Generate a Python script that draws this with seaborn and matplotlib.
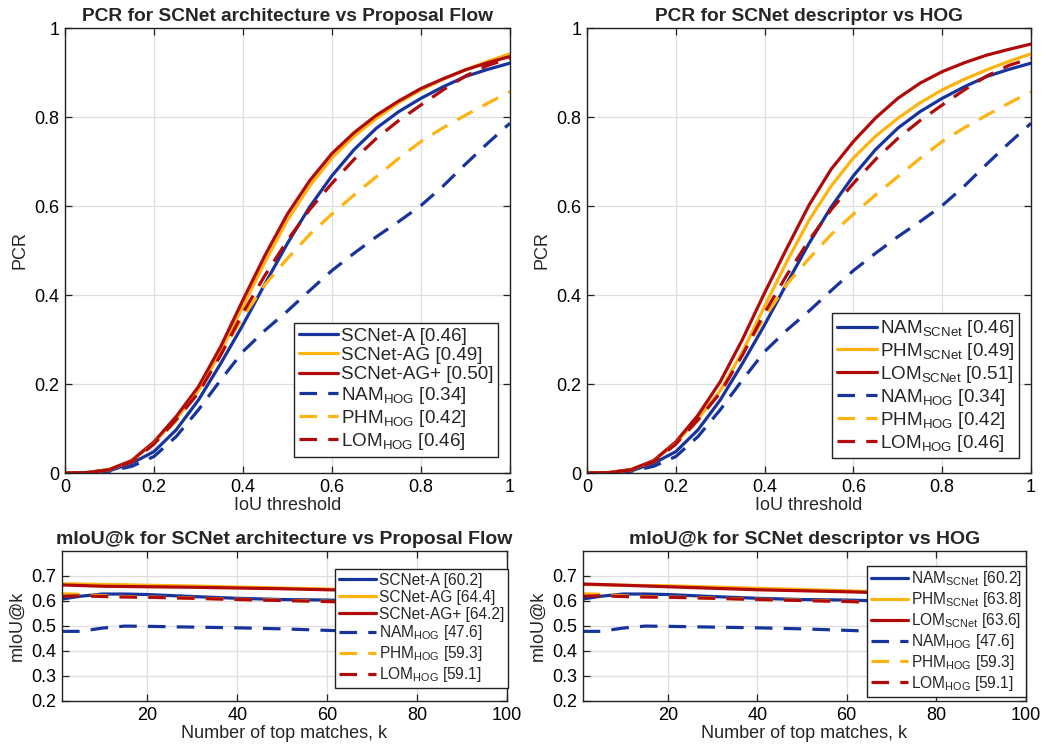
import numpy as np
import pandas as pd
import matplotlib
matplotlib.use('Agg')
import matplotlib.pyplot as plt
import seaborn as sns
from matplotlib.ticker import FuncFormatter

# PCR curves (IoU threshold 0..1)
iou = [0.0, 0.05, 0.1, 0.15, 0.2, 0.25, 0.3, 0.35, 0.4, 0.45, 0.5,
       0.55, 0.6, 0.65, 0.7, 0.75, 0.8, 0.85, 0.9, 0.95, 1.0]
pcr_scnet_a = [0, 0.001, 0.005, 0.022, 0.048, 0.097, 0.164, 0.246, 0.333, 0.426, 0.516,
               0.598, 0.668, 0.727, 0.775, 0.812, 0.842, 0.868, 0.891, 0.907, 0.921]
pcr_scnet_ag = [0, 0.001, 0.008, 0.027, 0.068, 0.122, 0.185, 0.272, 0.375, 0.475, 0.568,
                0.645, 0.708, 0.757, 0.797, 0.832, 0.861, 0.885, 0.906, 0.925, 0.942]
pcr_scnet_agp = [0, 0.001, 0.008, 0.028, 0.070, 0.127, 0.194, 0.284, 0.389, 0.490, 0.582,
                 0.657, 0.718, 0.765, 0.804, 0.836, 0.864, 0.886, 0.906, 0.922, 0.936]
pcr_nam_hog = [0, 0.001, 0.004, 0.015, 0.037, 0.082, 0.142, 0.209, 0.273, 0.321, 0.364,
               0.410, 0.455, 0.494, 0.531, 0.565, 0.601, 0.645, 0.694, 0.741, 0.786]
pcr_phm_hog = [0, 0.001, 0.007, 0.025, 0.066, 0.118, 0.182, 0.267, 0.350, 0.424, 0.482,
               0.536, 0.582, 0.625, 0.666, 0.707, 0.745, 0.776, 0.804, 0.831, 0.857]
pcr_lom_hog = [0, 0.001, 0.007, 0.025, 0.065, 0.120, 0.180, 0.265, 0.360, 0.445, 0.523,
               0.592, 0.651, 0.705, 0.752, 0.792, 0.827, 0.861, 0.892, 0.916, 0.932]
pcr_lom_scnet = [0, 0.001, 0.008, 0.028, 0.070, 0.130, 0.205, 0.300, 0.405, 0.505, 0.602,
                 0.683, 0.745, 0.798, 0.842, 0.876, 0.902, 0.922, 0.939, 0.952, 0.964]

# mIoU@k curves
k_vals = [1, 5, 10, 15, 20, 30, 40, 50, 60, 70, 80, 90, 100]
miou_scnet_a = [0.607, 0.618, 0.627, 0.627, 0.625, 0.617, 0.610, 0.605, 0.603, 0.598, 0.592, 0.587, 0.581]
miou_scnet_ag = [0.668, 0.667, 0.665, 0.664, 0.662, 0.659, 0.655, 0.651, 0.647, 0.642, 0.636, 0.629, 0.622]
miou_scnet_agp = [0.663, 0.661, 0.658, 0.657, 0.656, 0.654, 0.651, 0.648, 0.644, 0.640, 0.635, 0.630, 0.625]
miou_nam_hog = [0.478, 0.478, 0.491, 0.499, 0.498, 0.495, 0.492, 0.488, 0.482, 0.476, 0.470, 0.464, 0.458]
miou_phm_hog = [0.628, 0.626, 0.620, 0.617, 0.615, 0.611, 0.606, 0.602, 0.598, 0.592, 0.586, 0.580, 0.573]
miou_lom_hog = [0.618, 0.620, 0.617, 0.615, 0.614, 0.610, 0.605, 0.601, 0.597, 0.592, 0.587, 0.582, 0.577]
miou_phm_scnet = [0.665, 0.664, 0.662, 0.661, 0.660, 0.655, 0.650, 0.645, 0.640, 0.634, 0.628, 0.622, 0.615]
miou_lom_scnet = [0.667, 0.665, 0.662, 0.659, 0.656, 0.650, 0.644, 0.640, 0.636, 0.631, 0.626, 0.622, 0.618]

# legend labels
lbl_arch_pcr = ['SCNet-A [0.46]', 'SCNet-AG [0.49]', 'SCNet-AG+ [0.50]',
                r'NAM$_{\mathrm{HOG}}$ [0.34]', r'PHM$_{\mathrm{HOG}}$ [0.42]', r'LOM$_{\mathrm{HOG}}$ [0.46]']
lbl_desc_pcr = [r'NAM$_{\mathrm{SCNet}}$ [0.46]', r'PHM$_{\mathrm{SCNet}}$ [0.49]', r'LOM$_{\mathrm{SCNet}}$ [0.51]',
                r'NAM$_{\mathrm{HOG}}$ [0.34]', r'PHM$_{\mathrm{HOG}}$ [0.42]', r'LOM$_{\mathrm{HOG}}$ [0.46]']
lbl_arch_miou = ['SCNet-A [60.2]', 'SCNet-AG [64.4]', 'SCNet-AG+ [64.2]',
                 r'NAM$_{\mathrm{HOG}}$ [47.6]', r'PHM$_{\mathrm{HOG}}$ [59.3]', r'LOM$_{\mathrm{HOG}}$ [59.1]']
lbl_desc_miou = [r'NAM$_{\mathrm{SCNet}}$ [60.2]', r'PHM$_{\mathrm{SCNet}}$ [63.8]', r'LOM$_{\mathrm{SCNet}}$ [63.6]',
                 r'NAM$_{\mathrm{HOG}}$ [47.6]', r'PHM$_{\mathrm{HOG}}$ [59.3]', r'LOM$_{\mathrm{HOG}}$ [59.1]']

blue = '#17349c'
orange = '#ffb30f'
red = '#b00a0a'
colors = [blue, orange, red, blue, orange, red]
styles = ['-', '-', '-', (0, (5.5, 3.5)), (0, (5.5, 3.5)), (0, (5.5, 3.5))]

sns.set_style('ticks')
plt.rcParams['font.family'] = ['Liberation Sans', 'DejaVu Sans']
plt.rcParams['mathtext.fontset'] = 'custom'
plt.rcParams['mathtext.rm'] = 'Liberation Sans'
plt.rcParams['mathtext.it'] = 'Liberation Sans:italic'
plt.rcParams['mathtext.bf'] = 'Liberation Sans:bold'

fig = plt.figure(figsize=(10.46, 7.47), dpi=100)
ax_tl = fig.add_axes([0.0621, 0.3668, 0.4254, 0.5957])
ax_tr = fig.add_axes([0.5612, 0.3668, 0.4245, 0.5957])
ax_bl = fig.add_axes([0.0593, 0.0616, 0.4251, 0.2012])
ax_br = fig.add_axes([0.5571, 0.0616, 0.4235, 0.2012])

fmt = FuncFormatter(lambda v, p: '%g' % round(v, 2))


def style_axes(ax):
    ax.grid(True, color='#dedede', lw=0.9)
    ax.set_axisbelow(True)
    for s in ax.spines.values():
        s.set_visible(True)
        s.set_color('#222222')
        s.set_linewidth(1.0)
    ax.tick_params(direction='in', length=5, width=0.9, top=True, right=True,
                   labelsize=13, colors='#222222', labelcolor='black', pad=4)


def draw(ax, x, series, labels):
    for vals, c, ls, lab in zip(series, colors, styles, labels):
        sns.lineplot(x=x, y=vals, ax=ax, color=c, linestyle=ls, lw=2.3,
                     label=lab, errorbar=None, sort=False)


# PCR: architecture
draw(ax_tl, iou, [pcr_scnet_a, pcr_scnet_ag, pcr_scnet_agp,
                  pcr_nam_hog, pcr_phm_hog, pcr_lom_hog], lbl_arch_pcr)
# PCR: descriptor
draw(ax_tr, iou, [pcr_scnet_a, pcr_scnet_ag, pcr_lom_scnet,
                  pcr_nam_hog, pcr_phm_hog, pcr_lom_hog], lbl_desc_pcr)
# mIoU@k: architecture
draw(ax_bl, k_vals, [miou_scnet_a, miou_scnet_ag, miou_scnet_agp,
                     miou_nam_hog, miou_phm_hog, miou_lom_hog], lbl_arch_miou)
# mIoU@k: descriptor
draw(ax_br, k_vals, [miou_scnet_a, miou_phm_scnet, miou_lom_scnet,
                     miou_nam_hog, miou_phm_hog, miou_lom_hog], lbl_desc_miou)

for ax, title in [(ax_tl, 'PCR for SCNet architecture vs Proposal Flow'),
                  (ax_tr, 'PCR for SCNet descriptor vs HOG')]:
    style_axes(ax)
    ax.set_xlim(0, 1)
    ax.set_ylim(0, 1)
    ax.set_xticks([0, 0.2, 0.4, 0.6, 0.8, 1])
    ax.set_yticks([0, 0.2, 0.4, 0.6, 0.8, 1])
    ax.xaxis.set_major_formatter(fmt)
    ax.yaxis.set_major_formatter(fmt)
    ax.set_title(title, fontsize=13.8, fontweight='bold', pad=5)
    ax.set_xlabel('IoU threshold', fontsize=13, labelpad=1)
    ax.set_ylabel('PCR', fontsize=13, labelpad=4)

for ax, title in [(ax_bl, 'mIoU@k for SCNet architecture vs Proposal Flow'),
                  (ax_br, 'mIoU@k for SCNet descriptor vs HOG')]:
    style_axes(ax)
    ax.set_xlim(1, 100)
    ax.set_ylim(0.2, 0.8)
    ax.set_xticks([20, 40, 60, 80, 100])
    ax.set_yticks([0.2, 0.3, 0.4, 0.5, 0.6, 0.7])
    ax.yaxis.set_major_formatter(fmt)
    ax.set_title(title, fontsize=14, fontweight='bold', pad=5)
    ax.set_xlabel('Number of top matches, k', fontsize=13, labelpad=1)
    ax.set_ylabel('mIoU@k', fontsize=13, labelpad=4)

leg_kw = dict(frameon=True, fancybox=False, edgecolor='#222222', framealpha=1,
              borderaxespad=0, handletextpad=0.15, borderpad=0.25)
ax_tl.legend(loc='lower right', bbox_to_anchor=(0.974, 0.037), fontsize=13.6,
             handlelength=2.1, labelspacing=0.1, **leg_kw)
ax_tr.legend(loc='lower right', bbox_to_anchor=(0.973, 0.033), fontsize=13.6,
             handlelength=2.1, labelspacing=0.1, **leg_kw)
ax_bl.legend(loc='lower right', bbox_to_anchor=(1.003, 0.086), fontsize=11.2,
             handlelength=2.4, labelspacing=0.12, **leg_kw)
ax_br.legend(loc='lower right', bbox_to_anchor=(1.0, 0.029), fontsize=11.2,
             handlelength=2.4, labelspacing=0.12, **leg_kw)

for ax in [ax_tl, ax_tr, ax_bl, ax_br]:
    ax.get_legend().get_frame().set_linewidth(1.0)

fig.savefig('out.png', dpi=100)
